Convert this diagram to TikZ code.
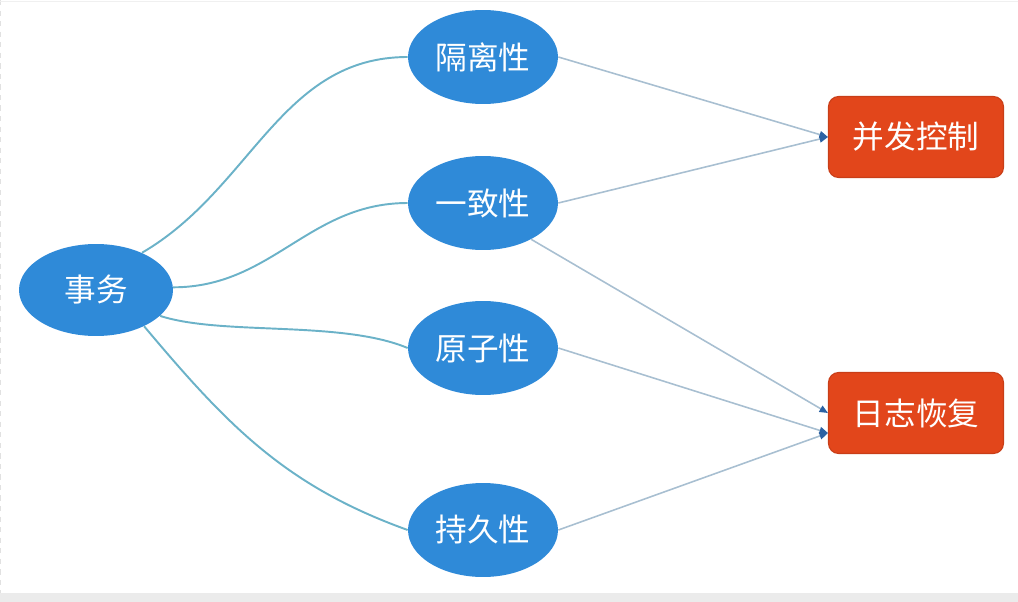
\documentclass[tikz,border=0pt]{standalone}
\usepackage{fontspec}
\newfontfamily\cjk{Noto Sans CJK SC}
\usetikzlibrary{arrows.meta,shapes.geometric,calc}
\definecolor{ellblue}{RGB}{47,138,216}
\definecolor{boxred}{RGB}{226,70,27}
\definecolor{boxedge}{RGB}{200,62,24}
\definecolor{curveteal}{RGB}{107,178,200}
\definecolor{linegray}{RGB}{168,191,209}
\definecolor{arrowblue}{RGB}{43,98,163}
\definecolor{bandgray}{RGB}{235,235,235}
\definecolor{framegray}{RGB}{225,225,225}
\tikzset{
  ell/.style={ellipse, fill=ellblue, draw=none, minimum width=3cm, minimum height=1.88cm, inner sep=0pt,
    text=white, font=\cjk\fontsize{18}{20}\selectfont},
  rbox/.style={rectangle, rounded corners=0.2cm, fill=boxred, draw=boxedge, line width=0.6pt,
    minimum width=3.5cm, minimum height=1.62cm, inner sep=0pt, text=white, font=\cjk\fontsize{18}{20}\selectfont},
  curve/.style={draw=curveteal, line width=1.1pt},
  arr/.style={draw=linegray, line width=0.9pt, -{Triangle[length=0.17cm,width=0.14cm,color=arrowblue]}}
}
\begin{document}
\begin{tikzpicture}[x=0.02cm,y=-0.02cm]
\useasboundingbox (0,0) rectangle (1018,602);
\fill[bandgray] (0,593) rectangle (1018,602);
\draw[framegray, line width=0.4pt, dashed] (0.5,0) -- (0.5,593);
\draw[framegray!50, line width=0.4pt] (0,1.5) -- (1018,1.5);

\node[ell, minimum width=3.08cm, minimum height=1.84cm] (s) at (96,290) {事务};
\node[ell] (c1) at (483,57) {隔离性};
\node[ell] (c2) at (483,203) {一致性};
\node[ell] (c3) at (483,348) {原子性};
\node[ell] (c4) at (483,530) {持久性};
\node[rbox] (b1) at (916,137) {并发控制};
\node[rbox] (b2) at (916,413) {日志恢复};
\coordinate (b2low) at ($(b2.west)+(0,20)$);

\draw[curve] (s.39) .. controls +(110,-64) and +(-127,0) .. (c1.west);
\draw[curve] (s.2) .. controls +(99,0) and +(-99,0) .. (c2.west);
\draw[curve] (s.-22) .. controls +(62,20) and +(-67,-28) .. (c3.west);
\draw[curve] (s.-37) .. controls +(84,100) and +(-122,-44) .. (c4.west);

\draw[arr] (c1.east) -- (b1.west);
\draw[arr] (c2.east) -- (b1.west);
\draw[arr] (c2.-37) -- (b2.west);
\draw[arr] (c3.east) -- (b2low);
\draw[arr] (c4.east) -- (b2low);
\end{tikzpicture}
\end{document}
